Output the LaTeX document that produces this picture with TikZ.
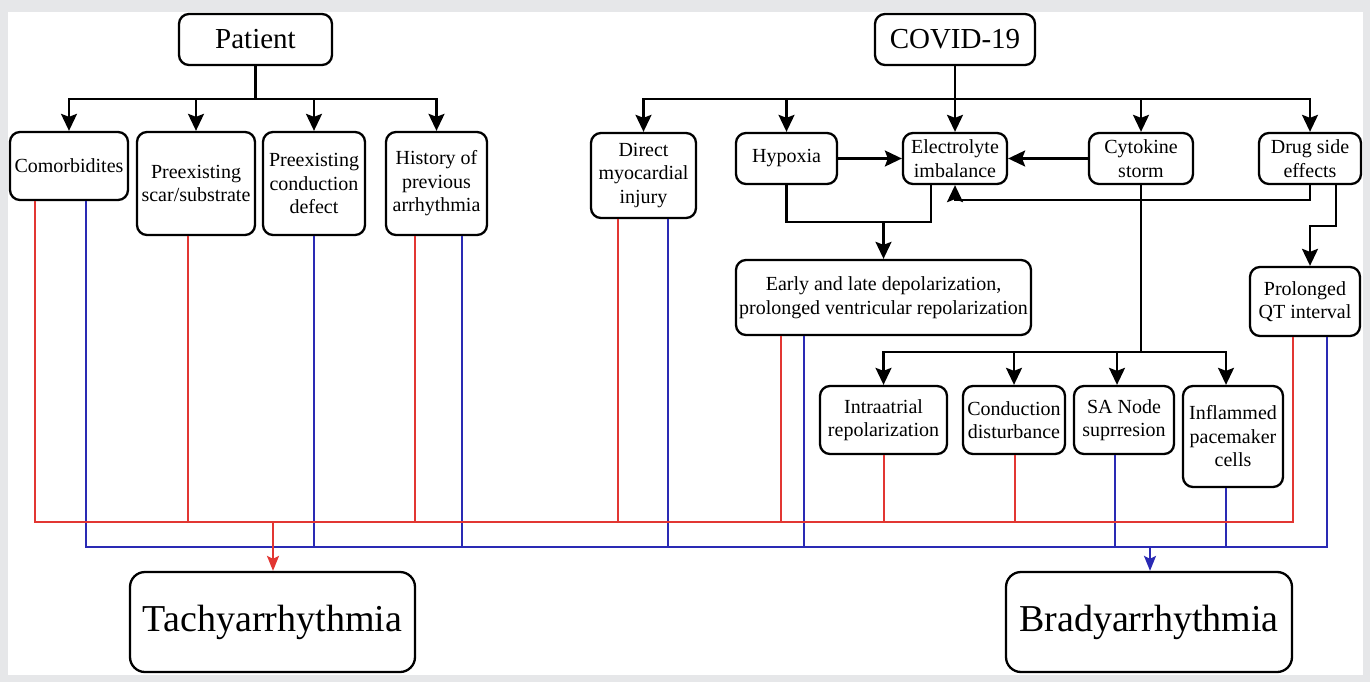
\documentclass[tikz,border=0pt]{standalone}
\usepackage{fontspec}
\setmainfont{Liberation Serif}
\usetikzlibrary{arrows.meta}
\definecolor{bggray}{RGB}{230,231,233}
\definecolor{tred}{RGB}{226,54,50}
\definecolor{tblue}{RGB}{42,42,180}
\begin{document}
\begin{tikzpicture}[x=1pt,y=-1pt,
  box/.style={draw, line width=2.3pt, rounded corners=10pt, align=center, inner sep=1pt,
    font=\fontsize{20}{23.5}\selectfont},
  headbox/.style={box, font=\fontsize{29}{34}\selectfont},
  bigbox/.style={box, rounded corners=15pt, font=\fontsize{38}{44}\selectfont},
  conn/.style={line width=2.3pt},
  arr/.style={line width=2.3pt, -{Stealth[length=17pt,width=16pt,inset=3pt]}},
  rl/.style={line width=2pt, draw=tred},
  bl/.style={line width=2pt, draw=tblue},
  rarr/.style={rl, -{Stealth[length=15pt,width=12pt,inset=3pt]}},
  barr/.style={bl, -{Stealth[length=15pt,width=12pt,inset=3pt]}}]
\fill[bggray] (0,0) rectangle (1370,682);
\fill[white] (8,12) rectangle (1363,675);
\useasboundingbox (0,0) rectangle (1370,682);

% top nodes
\node[headbox, minimum width=153pt, minimum height=51pt] (patient) at (255.5,39.5) {Patient};
\node[headbox, minimum width=160pt, minimum height=51pt] (covid) at (955,39.5) {COVID-19};

% patient children
\node[box, minimum width=118pt, minimum height=68pt] (como) at (69,166) {Comorbidites};
\node[box, minimum width=118pt, minimum height=103pt] (scar) at (196,183.5) {Preexisting\\scar/substrate};
\node[box, minimum width=102pt, minimum height=103pt] (cond) at (314,183.5) {Preexisting\\conduction\\defect};
\node[box, minimum width=101pt, minimum height=103pt] (hist) at (436.5,183.5) {History of\\previous\\arrhythmia};

% covid children
\node[box, minimum width=105pt, minimum height=85pt] (direct) at (643.5,175.5) {Direct\\myocardial\\injury};
\node[box, minimum width=101pt, minimum height=51pt] (hypoxia) at (786.5,158.5) {Hypoxia};
\node[box, minimum width=104pt, minimum height=51pt] (elec) at (955,158.5) {Electrolyte\\imbalance};
\node[box, minimum width=104pt, minimum height=51pt] (cyto) at (1141,158.5) {Cytokine\\storm};
\node[box, minimum width=102pt, minimum height=51pt] (drug) at (1310,158.5) {Drug side\\effects};

\node[box, minimum width=295pt, minimum height=75pt] (early) at (883.5,297.5) {Early and late depolarization,\\prolonged ventricular repolarization};
\node[box, minimum width=110pt, minimum height=69pt] (qt) at (1305,301.5) {Prolonged\\QT interval};

\node[box, minimum width=127pt, minimum height=68pt] (intra) at (883.5,420) {Intraatrial\\repolarization};
\node[box, minimum width=102pt, minimum height=68pt] (condist) at (1014,420) {Conduction\\disturbance};
\node[box, minimum width=100pt, minimum height=68pt] (sa) at (1124,420) {SA Node\\suprresion};
\node[box, minimum width=100pt, minimum height=101pt] (infl) at (1233,436.5) {Inflammed\\pacemaker\\cells};

\node[bigbox, minimum width=285pt, minimum height=100pt] (tachy) at (272.5,622) {Tachyarrhythmia};
\node[bigbox, minimum width=286pt, minimum height=100pt] (brady) at (1149,622) {Bradyarrhythmia};

% patient connectors
\coordinate (pb) at (255.5,99);
\draw[conn] (patient.south) -- (pb);
\draw[arr] (pb) -| (como.north);
\draw[arr] (pb) -| (hist.north);
\draw[arr] (scar.north |- pb) -- (scar.north);
\draw[arr] (cond.north |- pb) -- (cond.north);

% covid connectors
\coordinate (cb) at (955,99);
\draw[arr] (covid.south) -- (elec.north);
\draw[arr] (cb) -| (direct.north);
\draw[arr] (cb) -| (drug.north);
\draw[arr] (hypoxia.north |- cb) -- (hypoxia.north);
\draw[arr] (cyto.north |- cb) -- (cyto.north);

\draw[arr] (hypoxia.east) -- (elec.west);
\draw[arr] (cyto.west) -- (elec.east);

\coordinate (ej) at (931,222);
\draw[conn] (hypoxia.south) -- (hypoxia.south |- ej) -- (ej) -- (ej |- elec.south);
\draw[arr] (early.north |- ej) -- (early.north);

\coordinate (dj) at (1310,200);
\draw[arr] (drug.south) -- (dj) -- (elec.south |- dj) -- (elec.south);
\coordinate (dq1) at (1336,226);
\coordinate (dq2) at (1310,226);
\draw[arr] (dq1 |- drug.south) -- (dq1) -- (dq2) -- (dq2 |- qt.north);

\coordinate (kb) at (1141,352);
\draw[conn] (cyto.south) -- (kb);
\draw[arr] (kb) -| (intra.north);
\coordinate (kinf) at (1226,352);
\draw[arr] (kb) -- (kinf) -- (kinf |- infl.north);
\draw[arr] (condist.north |- kb) -- (condist.north);
\coordinate (ksa) at (1117,352);
\draw[arr] (ksa) -- (ksa |- sa.north);

% blue lines
\coordinate (bb) at (86,547);
\draw[bl] (86,0 |- como.south) -- (bb) -- (1327,547) -- (1327,0 |- qt.south);
\foreach \n/\x in {cond/314, hist/462, direct/668, early/804, sa/1115, infl/1226}
  \draw[bl] (\x,0 |- \n.south) -- (\x,547);
\coordinate (ba) at (1150,547);
\draw[barr] (ba) -- (ba |- brady.north);

% red lines
\coordinate (rb) at (35,522);
\draw[rl] (35,0 |- como.south) -- (rb) -- (1293,522) -- (1293,0 |- qt.south);
\foreach \n/\x in {scar/188, hist/415, direct/618, early/781, intra/884, condist/1015}
  \draw[rl] (\x,0 |- \n.south) -- (\x,522);
\coordinate (ra) at (273,522);
\draw[rarr] (ra) -- (ra |- tachy.north);
\end{tikzpicture}
\end{document}
